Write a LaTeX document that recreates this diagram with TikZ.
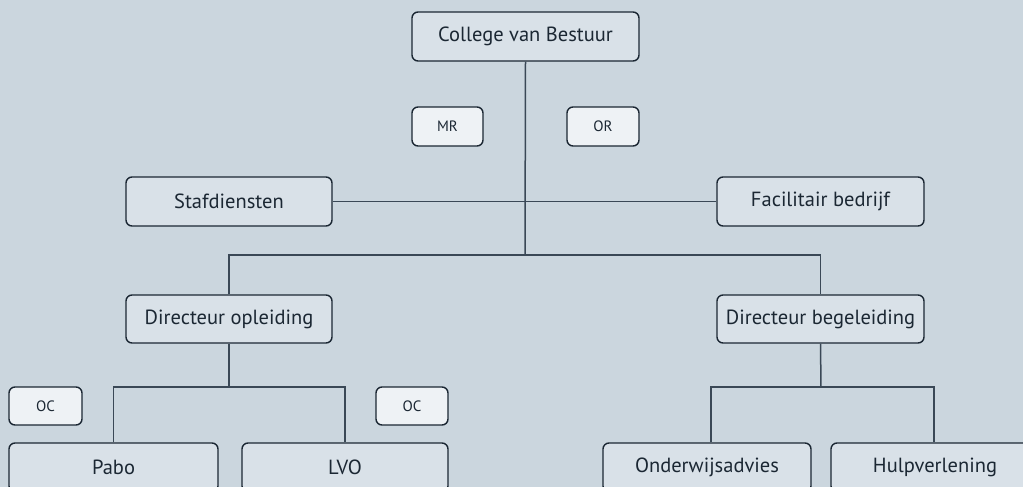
\documentclass[tikz,border=0pt]{standalone}
\usepackage{fontspec}
\setmainfont{PT Sans}
\definecolor{bg}{HTML}{CBD6DE}
\definecolor{boxfill}{HTML}{D9E1E8}
\definecolor{smallfill}{HTML}{EEF2F5}
\definecolor{edge}{HTML}{1B2733}
\definecolor{conn}{HTML}{3A4856}
\definecolor{txt}{HTML}{1B2733}
\begin{document}
\begin{tikzpicture}[x=1pt,y=-1pt,
  bigbox/.style={draw=edge, line width=1.4pt, fill=boxfill, rounded corners=6pt, inner sep=0pt, text=txt, font=\fontsize{20.5}{24}\selectfont},
  smallbox/.style={draw=edge, line width=1.4pt, fill=smallfill, rounded corners=6pt, inner sep=0pt, text=txt, font=\fontsize{15}{18}\selectfont},
  link/.style={draw=conn, line width=1.5pt}]
\useasboundingbox (0,0) rectangle (1023,487);
\fill[bg] (0,0) rectangle (1023,487);
% nodes
\node[bigbox, minimum width=227pt, minimum height=49pt] (cvb) at (525.5,36.5) {College van Bestuur};
\node[smallbox, minimum width=71pt, minimum height=39pt] (mr) at (447.5,126.5) {MR};
\node[smallbox, minimum width=72pt, minimum height=39pt] (or) at (603,126.5) {OR};
\node[bigbox, minimum width=206pt, minimum height=49pt] (staf) at (229,201.5) {Stafdiensten};
\node[bigbox, minimum width=207pt, minimum height=49pt] (fac) at (820.5,201.5) {Facilitair bedrijf};
\node[bigbox, minimum width=206pt, minimum height=48pt] (dop) at (229,319) {Directeur opleiding};
\node[bigbox, minimum width=207pt, minimum height=48pt] (dbg) at (820.5,319) {Directeur begeleiding};
\node[smallbox, minimum width=73pt, minimum height=38pt] (oc1) at (45.5,406) {OC};
\node[smallbox, minimum width=72pt, minimum height=38pt] (oc2) at (412,406) {OC};
\node[bigbox, minimum width=209pt, minimum height=49pt] (pabo) at (113.5,467.5) {Pabo};
\node[bigbox, minimum width=206pt, minimum height=49pt] (lvo) at (345,467.5) {LVO};
\node[bigbox, minimum width=208pt, minimum height=49pt] (onder) at (707,467.5) {Onderwijsadvies};
\node[bigbox, minimum width=208pt, minimum height=49pt] (hulp) at (935,467.5) {Hulpverlening};
% junction coordinates
\coordinate (j1) at (525,255);
\coordinate (j2) at (229,387);
\coordinate (j3) at (821,387);
% connectors
\path[link] (cvb.south) -- (j1);
\path[link] (staf.east) -- (fac.west);
\path[link] (dop.north) |- (j1) -| (dbg.north);
\path[link] (dop.south) -- (j2);
\path[link] (pabo.north) |- (j2) -| (lvo.north);
\path[link] (dbg.south) -- (j3);
\path[link] ([xshift=4pt]onder.north) |- (j3) -| ([xshift=-1pt]hulp.north);
\end{tikzpicture}
\end{document}
